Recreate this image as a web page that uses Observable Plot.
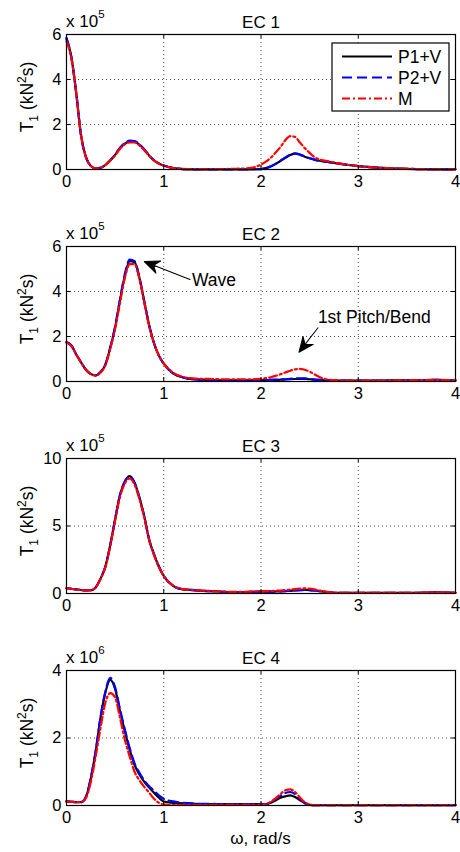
<!DOCTYPE html>
<html><head><meta charset="utf-8">
<script src="https://cdn.jsdelivr.net/npm/d3@7"></script>
<script src="https://cdn.jsdelivr.net/npm/@observablehq/plot@0.6"></script>
<style>
body{margin:0;background:#fff;width:460px;}
svg{display:block;}
</style></head><body><div id="chart"></div>
<script>
// ---- data (values in units of 10^exponent) ----
const omega = [0,0.05,0.1,0.15,0.2,0.25,0.3,0.35,0.4,0.45,0.5,0.55,0.6,0.65,0.7,0.75,0.8,0.85,0.9,0.95,1.0,
  1.1,1.2,1.3,1.4,1.5,1.6,1.7,1.8,1.9,2.0,
  2.05,2.1,2.15,2.2,2.25,2.3,2.35,2.4,2.45,2.5,2.55,2.6,
  2.7,2.8,2.9,3.0,3.2,3.4,3.6,3.8,4.0];

const seriesNames = ["P1+V","P2+V","M"];
const titles = ["EC 1","EC 2","EC 3","EC 4"];
const exponents = [5,5,5,6];
const yMax = [6,6,10,4];
const yTicks = [[0,2,4,6],[0,2,4,6],[0,5,10],[0,2,4]];
const xTicks = [0,1,2,3,4];

const ec1P1 = [5.8,5.0,3.4,1.5,0.55,0.16,0.05,0.07,0.2,0.4,0.65,0.95,1.15,1.25,1.24,1.1,0.88,0.62,0.4,0.27,0.18,
  0.06,0.02,0.01,0.01,0.01,0.01,0.01,0.01,0.01,0.02,
  0.06,0.14,0.25,0.38,0.52,0.64,0.71,0.66,0.57,0.5,0.44,0.39,
  0.33,0.26,0.2,0.15,0.08,0.04,0.02,0.01,0.01];
const ec1P2 = [5.85,5.0,3.4,1.5,0.55,0.16,0.05,0.07,0.2,0.41,0.67,0.97,1.18,1.28,1.26,1.12,0.89,0.63,0.41,0.27,0.18,
  0.06,0.02,0.01,0.01,0.01,0.01,0.01,0.01,0.01,0.02,
  0.05,0.13,0.25,0.39,0.53,0.65,0.72,0.67,0.58,0.5,0.44,0.39,
  0.33,0.26,0.2,0.15,0.08,0.04,0.02,0.01,0.01];
const ec1M = [5.7,4.95,3.4,1.5,0.55,0.16,0.05,0.07,0.2,0.4,0.63,0.92,1.12,1.2,1.2,1.07,0.86,0.6,0.39,0.26,0.17,
  0.06,0.03,0.02,0.02,0.02,0.02,0.03,0.04,0.07,0.22,
  0.35,0.52,0.75,1.0,1.3,1.48,1.45,1.2,0.95,0.74,0.55,0.45,
  0.36,0.27,0.2,0.15,0.08,0.04,0.02,0.01,0.01];

const ec2P1 = [1.75,1.6,1.2,0.85,0.52,0.33,0.27,0.42,0.75,1.5,2.4,3.6,4.7,5.35,5.3,4.6,3.55,2.5,1.7,1.15,0.79,
  0.35,0.18,0.1,0.08,0.06,0.05,0.05,0.05,0.05,0.06,
  0.06,0.07,0.07,0.08,0.09,0.1,0.11,0.12,0.12,0.1,0.08,0.07,
  0.05,0.04,0.04,0.04,0.04,0.05,0.06,0.07,0.05];
const ec2P2 = [1.75,1.6,1.2,0.85,0.52,0.33,0.27,0.42,0.76,1.52,2.45,3.65,4.78,5.42,5.35,4.62,3.55,2.5,1.7,1.15,0.79,
  0.35,0.18,0.1,0.08,0.06,0.05,0.05,0.05,0.05,0.06,
  0.06,0.07,0.08,0.09,0.1,0.12,0.13,0.14,0.14,0.12,0.09,0.07,
  0.05,0.04,0.04,0.04,0.04,0.05,0.06,0.07,0.05];
const ec2M = [1.72,1.58,1.2,0.85,0.52,0.33,0.27,0.4,0.72,1.45,2.35,3.5,4.6,5.22,5.22,4.55,3.5,2.45,1.7,1.15,0.8,
  0.38,0.2,0.14,0.12,0.11,0.1,0.1,0.1,0.1,0.12,
  0.15,0.19,0.25,0.32,0.4,0.48,0.54,0.56,0.52,0.44,0.32,0.2,
  0.08,0.05,0.04,0.04,0.04,0.05,0.06,0.07,0.05];

const ec3P1 = [0.39,0.35,0.3,0.26,0.23,0.24,0.45,1.1,2.0,3.6,5.5,7.3,8.3,8.7,8.2,7.1,5.7,4.0,2.9,2.0,1.3,
  0.55,0.3,0.25,0.2,0.17,0.13,0.1,0.1,0.12,0.14,
  0.14,0.14,0.15,0.16,0.18,0.2,0.23,0.25,0.26,0.25,0.22,0.18,
  0.08,0.04,0.04,0.04,0.04,0.04,0.05,0.08,0.05];
const ec3P2 = [0.39,0.35,0.3,0.26,0.23,0.24,0.45,1.1,2.0,3.6,5.5,7.3,8.3,8.65,8.2,7.1,5.7,4.0,2.9,2.0,1.3,
  0.55,0.3,0.25,0.2,0.17,0.13,0.1,0.1,0.12,0.14,
  0.14,0.14,0.15,0.16,0.18,0.2,0.23,0.25,0.26,0.25,0.22,0.18,
  0.08,0.04,0.04,0.04,0.04,0.04,0.05,0.08,0.05];
const ec3M = [0.39,0.35,0.3,0.26,0.23,0.24,0.45,1.08,1.95,3.5,5.4,7.15,8.15,8.52,8.05,7.0,5.6,3.95,2.85,1.95,1.3,
  0.58,0.32,0.27,0.22,0.18,0.14,0.12,0.12,0.14,0.16,
  0.17,0.18,0.2,0.22,0.25,0.29,0.33,0.36,0.38,0.36,0.3,0.22,
  0.1,0.05,0.04,0.04,0.04,0.04,0.05,0.08,0.05];

const ec4P1 = [0.12,0.11,0.1,0.1,0.25,0.8,1.6,2.6,3.35,3.72,3.45,2.8,2.2,1.65,1.2,0.92,0.7,0.53,0.38,0.23,0.12,
  0.08,0.06,0.05,0.04,0.04,0.04,0.04,0.04,0.04,0.04,
  0.04,0.08,0.15,0.23,0.27,0.3,0.25,0.16,0.07,0.02,0.01,0.01,
  0.01,0.01,0.01,0.01,0.01,0.01,0.01,0.01,0.01];
const ec4P2 = [0.12,0.11,0.1,0.1,0.26,0.82,1.62,2.62,3.38,3.78,3.5,2.85,2.25,1.7,1.25,0.97,0.74,0.57,0.44,0.3,0.2,
  0.12,0.08,0.06,0.05,0.05,0.04,0.04,0.04,0.04,0.04,
  0.04,0.1,0.19,0.29,0.37,0.4,0.34,0.2,0.08,0.02,0.01,0.01,
  0.01,0.01,0.01,0.01,0.01,0.01,0.01,0.01,0.01];
const ec4M = [0.12,0.11,0.1,0.1,0.22,0.7,1.45,2.3,3.05,3.33,3.2,2.6,1.95,1.45,1.0,0.75,0.55,0.38,0.2,0.08,0.03,
  0.02,0.02,0.02,0.02,0.02,0.02,0.02,0.02,0.02,0.02,
  0.04,0.11,0.21,0.34,0.45,0.48,0.4,0.24,0.1,0.03,0.01,0.01,
  0.01,0.01,0.01,0.01,0.01,0.01,0.01,0.01,0.01];

const panelSeries = [[ec1P1,ec1P2,ec1M],[ec2P1,ec2P2,ec2M],[ec3P1,ec3P2,ec3M],[ec4P1,ec4P2,ec4M]];

// annotations (panel EC 2): text positions and arrow tip positions
const noteLabels = ["Wave","1st Pitch/Bend"];
const noteTextX = [1.29, 2.585];
const noteTextY = [4.49, 2.84];
const noteTipX = [0.80, 2.39];
const noteTipY = [5.33, 1.30];

// ---- styling ----
const FONT = "'Liberation Sans', Arial, Helvetica, sans-serif";
const colors = ["#000000","#0000ff","#ff0000"];
const dashes = [null,"10,5","8,3,2,3"];
const W = 460, ML = 66, MR = 5, MT = 34;

const arrowShape = {
  draw(ctx, l) {
    const hl = 15, hw = 6.5, notch = 10;
    ctx.moveTo(0, 0);
    ctx.lineTo(0, -l + notch);
    ctx.moveTo(0, -l);
    ctx.lineTo(-hw, -l + hl);
    ctx.lineTo(0, -l + notch);
    ctx.lineTo(hw, -l + hl);
    ctx.closePath();
  }
};

const root = document.getElementById("chart");

panelSeries.forEach((series, k) => {
  const last = k === panelSeries.length - 1;
  const H = last ? 216 : 212;
  const MB = H - MT - 135;
  const ym = yMax[k];
  const innerW = W - ML - MR;
  const tx = 4 * 4 / innerW;      // inward tick length in x units (4px)
  const ty = ym * 4 / 135;        // inward tick length in y units (4px)

  const marks = [
    Plot.gridX(xTicks, {stroke: "#000", strokeOpacity: 0.7, strokeDasharray: "1,3"}),
    Plot.gridY(yTicks[k], {stroke: "#000", strokeOpacity: 0.7, strokeDasharray: "1,3"})
  ];
  series.forEach((vals, s) => {
    const rows = vals.map((v, i) => ({omega: omega[i], value: v}));
    marks.push(Plot.line(rows, {x: "omega", y: "value", stroke: colors[s], strokeWidth: 2.2,
      strokeDasharray: dashes[s], curve: "monotone-x"}));
  });
  marks.push(
    Plot.ruleX(xTicks, {x: d => d, y1: 0, y2: ty, stroke: "#000"}),
    Plot.ruleX(xTicks, {x: d => d, y1: ym - ty, y2: ym, stroke: "#000"}),
    Plot.ruleY(yTicks[k], {y: d => d, x1: 0, x2: tx, stroke: "#000"}),
    Plot.ruleY(yTicks[k], {y: d => d, x1: 4 - tx, x2: 4, stroke: "#000"}),
    Plot.frame({stroke: "#000", strokeWidth: 1.2}),
    Plot.axisX(xTicks, {tickSize: 0, tickPadding: 6, fontSize: 16.5, label: null}),
    Plot.axisY(yTicks[k], {tickSize: 0, tickPadding: 5, fontSize: 16.5, label: null}),
    Plot.text([titles[k]], {text: d => d, frameAnchor: "top", dy: -18.5, fontSize: 17})
  );
  if (k === 1) {
    const notes = noteLabels.map((t, i) => ({t, x: noteTextX[i], y: noteTextY[i], tx: noteTipX[i], ty: noteTipY[i]}));
    marks.push(
      Plot.text(notes, {x: "x", y: "y", text: "t", textAnchor: "start", fontSize: 17.5}),
      Plot.vector([notes[0]], {x: "tx", y: "ty", length: 49, rotate: -68.6, anchor: "end",
        shape: arrowShape, stroke: "#000", fill: "#000", strokeWidth: 1}),
      Plot.vector([notes[1]], {x: "tx", y: "ty", length: 31, rotate: -142.1, anchor: "end",
        shape: arrowShape, stroke: "#000", fill: "#000", strokeWidth: 1})
    );
  }

  const svg = Plot.plot({
    width: W, height: H,
    marginLeft: ML, marginRight: MR, marginTop: MT, marginBottom: MB,
    x: {domain: [0, 4]},
    y: {domain: [0, ym]},
    style: {fontFamily: FONT, fontSize: "16px", background: "#fff", color: "#000", overflow: "visible"},
    marks
  });

  const sel = d3.select(svg);
  // exponent "x 10^n"
  const ex = sel.append("text").attr("x", ML).attr("y", 26.5).attr("text-anchor", "start")
    .attr("font-family", FONT).attr("font-size", 17).attr("fill", "#000");
  ex.append("tspan").text("x 10");
  ex.append("tspan").attr("dy", -9).attr("font-size", 11.5).text(String(exponents[k]));

  // y label T1 (kN2s)
  const yl = sel.append("text")
    .attr("transform", `translate(33,${MT + 63}) rotate(-90)`)
    .attr("text-anchor", "middle")
    .attr("font-family", FONT).attr("font-size", 17.5).attr("fill", "#000");
  yl.append("tspan").text("T");
  yl.append("tspan").attr("dy", 5).attr("font-size", 12).text("1");
  yl.append("tspan").attr("dy", -5).text("\u00a0(kN");
  yl.append("tspan").attr("dy", -7).attr("font-size", 12).text("2");
  yl.append("tspan").attr("dy", 7).text("s)");

  if (last) {
    sel.append("text").attr("x", ML + innerW / 2).attr("y", 844 - 636)
      .attr("text-anchor", "middle").attr("font-family", FONT).attr("font-size", 17)
      .attr("fill", "#000").text("\u03c9, rad/s");
  }

  if (k === 0) {
    const lg = sel.append("g");
    lg.append("rect").attr("x", 332).attr("y", 43).attr("width", 117).attr("height", 68)
      .attr("fill", "#fff").attr("stroke", "#000").attr("stroke-width", 1.2);
    seriesNames.forEach((name, s) => {
      const yy = 56.5 + s * 21;
      lg.append("line").attr("x1", 342).attr("x2", 392).attr("y1", yy).attr("y2", yy)
        .attr("stroke", colors[s]).attr("stroke-width", 2.2)
        .attr("stroke-dasharray", dashes[s]);
      lg.append("text").attr("x", 398).attr("y", yy).attr("dy", "0.36em").attr("text-anchor", "start")
        .attr("font-family", FONT).attr("font-size", 17.5).attr("fill", "#000").text(name);
    });
  }

  root.appendChild(svg);
});
</script>
</body></html>
